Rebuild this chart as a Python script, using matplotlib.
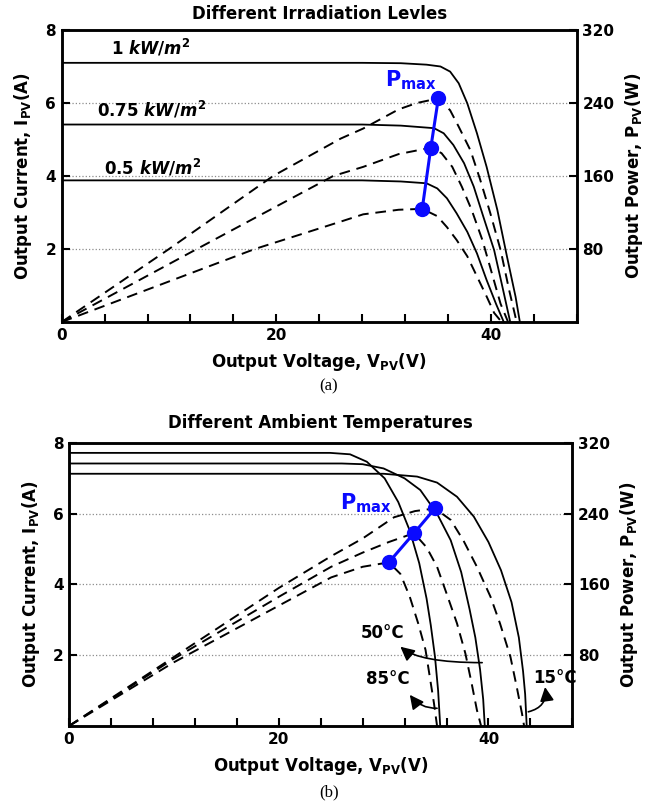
import numpy as np
import matplotlib
matplotlib.use('Agg')
import matplotlib.pyplot as plt

plt.rcParams['font.family'] = ['DejaVu Sans']
plt.rcParams['font.weight'] = 'bold'
plt.rcParams['axes.labelweight'] = 'bold'
plt.rcParams['axes.titleweight'] = 'bold'
plt.rcParams['mathtext.fontset'] = 'custom'
plt.rcParams['mathtext.rm'] = 'DejaVu Sans:bold'
plt.rcParams['mathtext.bf'] = 'DejaVu Sans:bold'
plt.rcParams['mathtext.it'] = 'DejaVu Sans:italic:bold'
plt.rcParams['mathtext.default'] = 'bf'

# ---- (a) irradiation levels: I-V (A) and P-V (W) ----
v_1kw = [0, 28, 31.6, 34.0, 35.3, 36.2, 37.0, 37.8, 38.7, 39.6, 40.6, 41.5, 42.3, 42.7]
i_1kw = [7.10, 7.10, 7.09, 7.05, 7.00, 6.86, 6.54, 5.99, 5.17, 4.25, 3.07, 1.79, 0.69, 0.0]
v_075 = [0, 28, 31.6, 34.7, 35.6, 36.5, 37.5, 38.4, 39.3, 40.3, 41.0, 41.8]
i_075 = [5.41, 5.41, 5.38, 5.31, 5.17, 4.85, 4.35, 3.71, 2.88, 1.97, 1.06, 0.0]
v_05 = [0, 28, 31.6, 34.0, 35.0, 35.9, 36.8, 37.8, 38.7, 39.6, 40.5, 41.2]
i_05 = [3.88, 3.88, 3.85, 3.80, 3.66, 3.39, 2.98, 2.47, 1.88, 1.15, 0.48, 0.0]

pv_1kw_v = [0, 10, 19.7, 26, 28.1, 31.4, 33.1, 35.1, 36.2, 37.0, 38.1, 39.0, 39.95, 40.9, 41.7, 42.4]
pv_1kw_p = [0, 80, 160, 201, 212, 233, 240, 245, 232, 214, 188, 156, 119, 79, 35, 0]
pv_075_v = [0, 12.6, 25.3, 28.1, 31.4, 34.4, 35.4, 36.4, 37.3, 38.2, 39.2, 40.1, 40.9, 41.6]
pv_075_p = [0, 80, 160, 170, 184, 191, 185, 170, 148, 123, 90, 53, 20, 0]
pv_05_v = [0, 18.0, 26, 28.1, 31.4, 33.6, 35.0, 35.9, 36.8, 37.8, 38.7, 39.6, 40.3, 41.0]
pv_05_p = [0, 80, 110, 118, 123, 124, 116, 104, 90, 72, 50, 28, 10, 0]

pmax_a_v = [35.1, 34.4, 33.6]
pmax_a_p = [245, 191, 124]

irr_labels = ['1 $\\mathit{kW/m^2}$', '0.75 $\\mathit{kW/m^2}$', '0.5 $\\mathit{kW/m^2}$']
irr_label_pos = [(4.6, 7.5), (3.3, 5.82), (3.9, 4.22)]

# ---- (b) ambient temperatures ----
v_15 = [0, 30, 33.2, 35.1, 37.0, 38.6, 40.0, 41.2, 42.2, 42.9, 43.3, 43.5, 43.65]
i_15 = [7.13, 7.13, 7.05, 6.88, 6.48, 5.92, 5.2, 4.4, 3.5, 2.5, 1.55, 0.9, 0.0]
v_50 = [0, 26, 28, 30, 32, 33.5, 35.1, 36.4, 37.4, 38.2, 38.75, 39.2, 39.5, 39.65]
i_50 = [7.42, 7.42, 7.40, 7.28, 7.0, 6.67, 6.0, 5.25, 4.35, 3.3, 2.5, 1.6, 0.75, 0.0]
v_85 = [0, 24.9, 26.8, 28.4, 30.1, 31.4, 32.5, 33.4, 34.1, 34.5, 34.9, 35.2, 35.4]
i_85 = [7.72, 7.72, 7.68, 7.47, 7.0, 6.33, 5.52, 4.6, 3.6, 2.85, 1.96, 1.0, 0.0]

pv_15_v = [0, 10, 20, 25, 28, 31, 33, 34.9, 36.4, 37.6, 38.9, 40.2, 41.1, 42.1, 42.7, 43.2, 43.4]
pv_15_p = [0, 78, 156, 192, 212, 236, 243, 246, 233, 210, 180, 146, 116, 78, 44, 14, 0]
pv_50_v = [0, 10, 20, 25, 28, 30.5, 32.9, 34.1, 35.1, 36.0, 37.0, 37.8, 38.4, 38.9, 39.3]
pv_50_p = [0, 76, 146, 180, 196, 208, 218, 202, 180, 150, 116, 82, 48, 18, 0]
pv_85_v = [0, 10, 20, 25, 28, 30.5, 31.6, 32.5, 33.3, 34.0, 34.4, 34.8, 35.1]
pv_85_p = [0, 72, 136, 168, 180, 185, 172, 146, 116, 86, 56, 26, 0]

pmax_b_v = [30.5, 32.9, 34.9]
pmax_b_p = [185, 218, 246]

temp_labels = ['50°C', '85°C', '15°C']
temp_label_pos = [(29.9, 2.62), (30.4, 1.32), (46.3, 1.35)]
# (tail, head) of the arrows, in (V, A)
temp_arrows = [((39.4, 1.79), (31.6, 2.24)), ((35.1, 0.5), (32.5, 0.88)), ((43.8, 0.4), (45.4, 1.1))]
temp_arrow_style = ['angle3,angleA=0,angleB=-40', 'arc3,rad=-0.25', 'arc3,rad=0.45']

BLUE = '#0a0aff'
DASH = (0, (5.5, 3.5))


def setup(ax, ax2, title, title_pad):
    ax.set_xlim(0, 48)
    ax.set_ylim(0, 8)
    ax2.set_ylim(0, 320)
    xt = np.arange(0, 49, 4)
    ax.set_xticks(xt)
    ax.set_xticklabels([str(t) if t % 20 == 0 else '' for t in xt])
    ax.set_yticks([2, 4, 6, 8])
    ax2.set_yticks([80, 160, 240, 320])
    ax.grid(axis='y', linestyle=':', color='#8c8c8c', linewidth=0.9)
    ax.set_axisbelow(True)
    for a in (ax, ax2):
        a.tick_params(direction='in', length=6, width=1.5, labelsize=11, pad=4)
        for s in a.spines.values():
            s.set_linewidth(1.8)
    ax.set_title(title, fontsize=12, fontweight='bold', pad=title_pad)
    ax.set_xlabel('Output Voltage, V$_{PV}$(V)', fontsize=12, fontweight='bold', labelpad=6)
    ax.set_ylabel('Output Current, I$_{PV}$(A)', fontsize=12, fontweight='bold', labelpad=8)
    ax2.set_ylabel('Output Power, P$_{PV}$(W)', fontsize=12, fontweight='bold', labelpad=6)


fig = plt.figure(figsize=(6.58, 8.06), dpi=100)

# (a)
ax1 = fig.add_axes([0.0938, 0.6005, 0.7827, 0.3623])
ax1b = ax1.twinx()
setup(ax1, ax1b, 'Different Irradiation Levles', 8)

for v, i in [(v_1kw, i_1kw), (v_075, i_075), (v_05, i_05)]:
    ax1.plot(v, i, color='black', lw=1.3)
for v, p in [(pv_1kw_v, pv_1kw_p), (pv_075_v, pv_075_p), (pv_05_v, pv_05_p)]:
    ax1b.plot(v, p, color='black', lw=1.4, linestyle=DASH)
ax1b.plot(pmax_a_v, pmax_a_p, color=BLUE, lw=2.2, marker='o', markersize=10, zorder=5)
ax1.text(35.0, 6.3, '$\\mathbf{P_{max}}$', color=BLUE, fontsize=15, ha='right', va='bottom')
for txt, (x, y) in zip(irr_labels, irr_label_pos):
    ax1.text(x, y, txt, fontsize=12, fontweight='bold', ha='left', va='center')

fig.text(0.5, 0.520, '(a)', family='Liberation Serif', fontweight='normal', fontsize=12,
         ha='center', va='center')

# (b)
ax2 = fig.add_axes([0.1049, 0.0993, 0.7649, 0.3511])
ax2b = ax2.twinx()
setup(ax2, ax2b, 'Different Ambient Temperatures', 11)

for v, i in [(v_15, i_15), (v_50, i_50), (v_85, i_85)]:
    ax2.plot(v, i, color='black', lw=1.3)
for v, p in [(pv_15_v, pv_15_p), (pv_50_v, pv_50_p), (pv_85_v, pv_85_p)]:
    ax2b.plot(v, p, color='black', lw=1.4, linestyle=DASH)
ax2b.plot(pmax_b_v, pmax_b_p, color=BLUE, lw=2.2, marker='o', markersize=10, zorder=5)
ax2.text(30.8, 5.95, '$\\mathbf{P_{max}}$', color=BLUE, fontsize=15, ha='right', va='bottom')

for txt, (x, y) in zip(temp_labels, temp_label_pos):
    ax2.text(x, y, txt, fontsize=12, fontweight='bold', ha='center', va='center', clip_on=False)
for (tail, head), cs in zip(temp_arrows, temp_arrow_style):
    ax2.annotate('', xy=head, xytext=tail,
                 arrowprops=dict(arrowstyle='-|>,head_length=0.6,head_width=0.3',
                                 connectionstyle=cs, color='black', lw=1.2,
                                 mutation_scale=14, shrinkA=0, shrinkB=0))

fig.text(0.5, 0.0174, '(b)', family='Liberation Serif', fontweight='normal', fontsize=12,
         ha='center', va='center')

fig.savefig('out.png', dpi=100)
